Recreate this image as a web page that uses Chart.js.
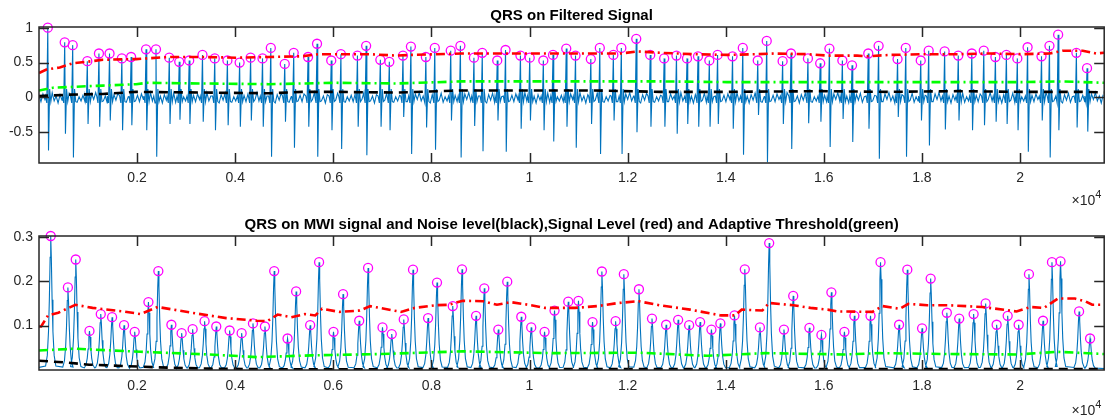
<!DOCTYPE html>
<html>
<head>
<meta charset="utf-8">
<script src="https://cdn.jsdelivr.net/npm/chart.js@4.4.1/dist/chart.umd.min.js"></script>
<style>
  html, body { margin: 0; padding: 0; background: #fff; }
  #wrap { position: relative; width: 1110px; height: 418px; overflow: hidden; }
  canvas { position: absolute; left: 0; }
</style>
</head>
<body>
<div id="wrap">
  <canvas id="filt-chart" width="1110" height="214" style="top:0"></canvas>
  <canvas id="mwi-chart" width="1110" height="209" style="top:209px"></canvas>
</div>
<script>
'use strict'
const FONT = '"Liberation Sans", Arial, sans-serif'
const AXIS_COLOR = '#262626'
const xMax = 21716
const xTickVals = [2000, 4000, 6000, 8000, 10000, 12000, 14000, 16000, 18000, 20000]
const yTicksFilt = [-0.5, 0, 0.5, 1]
const yTicksMwi = [0.1, 0.2, 0.3]

// R peaks found on the filtered signal (sample index, amplitude)
const qrsRawIdx = [179, 524, 687, 985, 1222, 1438, 1689, 1878, 2182, 2385,
  2656, 2859, 3062, 3333, 3583, 3841, 4090, 4314, 4557, 4726,
  5010, 5193, 5485, 5668, 5958, 6155, 6492, 6669, 6959, 7142,
  7420, 7582, 7887, 8069, 8394, 8591, 8867, 9037, 9342, 9511,
  9815, 10004, 10282, 10479, 10749, 10938, 11250, 11433, 11709, 11872,
  12176, 12461, 12745, 12996, 13211, 13435, 13666, 13834, 14139, 14348,
  14653, 14836, 15160, 15331, 15676, 15926, 16114, 16378, 16575, 16906,
  17117, 17503, 17671, 17976, 18138, 18463, 18741, 19017, 19261, 19498,
  19722, 19945, 20154, 20438, 20600, 20777, 21149, 21366]
const qrsRawAmp = [1.0, 0.79, 0.75, 0.52, 0.63, 0.63, 0.56, 0.58, 0.69, 0.69,
  0.57, 0.51, 0.53, 0.61, 0.56, 0.53, 0.50, 0.57, 0.56, 0.71,
  0.48, 0.64, 0.58, 0.77, 0.53, 0.62, 0.60, 0.74, 0.54, 0.51,
  0.60, 0.73, 0.58, 0.71, 0.67, 0.74, 0.57, 0.64, 0.53, 0.68,
  0.60, 0.57, 0.53, 0.61, 0.70, 0.60, 0.55, 0.71, 0.61, 0.71,
  0.84, 0.61, 0.56, 0.60, 0.56, 0.59, 0.53, 0.61, 0.59, 0.71,
  0.53, 0.81, 0.52, 0.63, 0.56, 0.49, 0.70, 0.53, 0.46, 0.63,
  0.74, 0.55, 0.71, 0.53, 0.67, 0.66, 0.60, 0.63, 0.67, 0.58,
  0.61, 0.56, 0.72, 0.59, 0.74, 0.90, 0.64, 0.42]
// deepest dip right after each R peak
const sWaveAmp = [-0.76, -0.52, -0.86, -0.38, -0.42, -0.33, -0.47, -0.40, -0.47, -0.85,
  -0.38, -0.32, -0.38, -0.35, -0.47, -0.40, -0.42, -0.33, -0.42, -0.85,
  -0.35, -0.72, -0.42, -0.85, -0.47, -0.74, -0.42, -0.83, -0.42, -0.47,
  -0.28, -0.81, -0.43, -0.75, -0.33, -0.86, -0.41, -0.77, -0.33, -0.78,
  -0.45, -0.33, -0.47, -0.63, -0.42, -0.72, -0.38, -0.81, -0.33, -0.81,
  -0.50, -0.42, -0.42, -0.52, -0.38, -0.42, -0.42, -0.38, -0.45, -0.82,
  -0.25, -0.93, -0.38, -0.74, -0.37, -0.35, -0.71, -0.31, -0.64, -0.45,
  -0.88, -0.28, -0.85, -0.33, -0.69, -0.46, -0.33, -0.47, -0.40, -0.35,
  -0.38, -0.47, -0.78, -0.33, -0.86, -0.47, -0.43, -0.49]
// baseline ripple of the filtered signal between beats
const baseWiggle = [0.03, -0.06, 0.05, -0.03, 0.07, -0.05, 0.02, -0.08, 0.04, -0.04, 0.06, -0.07, 0.01, -0.05]

// QRS peaks on the moving window integration signal
const qrsIdx = [239, 589, 749, 1029, 1259, 1490, 1734, 1951, 2231, 2433,
  2699, 2908, 3132, 3376, 3614, 3886, 4131, 4362, 4606, 4795,
  5067, 5242, 5528, 5710, 6004, 6199, 6528, 6709, 7003, 7191,
  7436, 7625, 7932, 8114, 8435, 8624, 8910, 9078, 9364, 9546,
  9832, 10035, 10307, 10510, 10790, 10998, 11285, 11475, 11755, 11923,
  12231, 12497, 12785, 13030, 13254, 13478, 13709, 13891, 14179, 14389,
  14697, 14886, 15187, 15376, 15706, 15951, 16154, 16420, 16623, 16952,
  17156, 17534, 17702, 18003, 18178, 18508, 18760, 19054, 19299, 19523,
  19748, 19972, 20182, 20469, 20651, 20826, 21204, 21428]
const qrsAmp = [0.302, 0.186, 0.249, 0.088, 0.126, 0.119, 0.101, 0.086, 0.153, 0.223,
  0.102, 0.083, 0.092, 0.110, 0.098, 0.089, 0.083, 0.105, 0.098, 0.223,
  0.071, 0.177, 0.101, 0.243, 0.086, 0.171, 0.111, 0.230, 0.096, 0.081,
  0.114, 0.226, 0.117, 0.197, 0.144, 0.227, 0.122, 0.184, 0.091, 0.199,
  0.120, 0.096, 0.086, 0.134, 0.154, 0.156, 0.108, 0.222, 0.110, 0.216,
  0.182, 0.116, 0.102, 0.113, 0.101, 0.108, 0.091, 0.105, 0.123, 0.227,
  0.096, 0.286, 0.091, 0.167, 0.095, 0.079, 0.175, 0.086, 0.122, 0.122,
  0.243, 0.102, 0.226, 0.094, 0.206, 0.129, 0.116, 0.126, 0.150, 0.102,
  0.122, 0.102, 0.216, 0.111, 0.243, 0.245, 0.132, 0.071]

// levels on the filtered signal
const sigFiltIdx = [0, 152, 423, 694, 964, 1302, 1979, 2656, 3332, 4009, 4685, 5362, 5700, 6716, 7298,
  7596, 8611, 9490, 10775, 11859, 12197, 12671, 13347, 14024, 14606, 14985, 15662, 16068, 16677, 16880,
  17354, 18031, 18707, 19384, 20061, 20602, 20873, 21279, 21549, 21716]
const sigFilt = [0.35, 0.40, 0.43, 0.49, 0.51, 0.54, 0.55, 0.58, 0.58, 0.57, 0.58, 0.59, 0.62, 0.62, 0.60,
  0.61, 0.63, 0.63, 0.63, 0.63, 0.66, 0.64, 0.62, 0.61, 0.62, 0.63, 0.62, 0.60, 0.60, 0.59,
  0.61, 0.62, 0.62, 0.63, 0.62, 0.63, 0.67, 0.67, 0.63, 0.64]
const thrFiltIdx = [0, 288, 626, 1302, 1979, 2216, 3332, 4685, 5362, 6029, 7298, 8611, 9964, 11317,
  12671, 14024, 15920, 17354, 18707, 20061, 20873, 21716]
const thrFilt = [0.10, 0.14, 0.15, 0.17, 0.19, 0.21, 0.20, 0.19, 0.20, 0.21, 0.20, 0.23, 0.23, 0.23,
  0.23, 0.22, 0.22, 0.22, 0.22, 0.22, 0.23, 0.21]
const noiseFiltIdx = [0, 626, 1302, 1979, 3332, 4685, 5362, 6029, 7298, 8611, 9964, 11317, 12671,
  14024, 15920, 17354, 18707, 20061, 21331, 21716]
const noiseFilt = [0.02, 0.04, 0.05, 0.08, 0.07, 0.06, 0.08, 0.08, 0.07, 0.10, 0.10, 0.10, 0.08,
  0.08, 0.09, 0.08, 0.09, 0.08, 0.08, 0.07]

// levels on the MWI signal
const sigMwiIdx = [0, 44, 183, 393, 742, 1092, 1721, 2070, 2419, 3118, 3817, 4445, 4655, 4865, 5144,
  5424, 5633, 5773, 6122, 6542, 6751, 7380, 7659, 8079, 8358, 8638, 9057, 9336, 9616, 10035,
  10315, 10929, 11384, 11804, 12224, 12644, 13275, 13905, 14186, 14326, 14746, 14886, 15376, 15727, 16077,
  16287, 16988, 17198, 17548, 17723, 18108, 18529, 19229, 19930, 20210, 20490, 20771, 21121, 21331, 21471, 21716]
const sigMwi = [0.098, 0.098, 0.123, 0.129, 0.147, 0.140, 0.132, 0.126, 0.142, 0.129, 0.117, 0.111, 0.110, 0.125, 0.119,
  0.126, 0.123, 0.138, 0.131, 0.134, 0.144, 0.131, 0.140, 0.146, 0.147, 0.156, 0.155, 0.147, 0.153, 0.146,
  0.140, 0.140, 0.144, 0.151, 0.155, 0.146, 0.136, 0.123, 0.123, 0.136, 0.134, 0.151, 0.146, 0.140, 0.136,
  0.132, 0.131, 0.144, 0.138, 0.149, 0.146, 0.146, 0.142, 0.132, 0.142, 0.140, 0.161, 0.161, 0.155, 0.147, 0.147]
const thrMwiIdx = [0, 742, 2070, 3467, 4445, 5563, 6961, 8638, 10454, 12224, 13625, 14816, 16427,
  17128, 18529, 19930, 20771, 21716]
const thrMwi = [0.044, 0.048, 0.041, 0.035, 0.029, 0.033, 0.036, 0.042, 0.038, 0.039, 0.032, 0.038, 0.035,
  0.038, 0.036, 0.035, 0.041, 0.036]
const noiseMwiIdx = [0, 533, 1022, 1721, 2419, 3467, 4865, 8000, 12000, 16000, 20000, 21716]
const noiseMwi = [0.021, 0.017, 0.012, 0.009, 0.006, 0.003, 0.0015, 0.002, 0.002, 0.002, 0.002, 0.002]

const zip = (xs, ys) => xs.map((x, i) => ({ x: x, y: ys[i] }))

function buildFiltered() {
  const pts = []
  let w = 0
  const addWiggle = (from, to) => {
    for (let x = from; x < to; x += 40) {
      pts.push({ x: x, y: baseWiggle[w++ % baseWiggle.length] })
    }
  }
  addWiggle(0, qrsRawIdx[0] - 45)
  qrsRawIdx.forEach((r, i) => {
    pts.push({ x: r - 45, y: 0.02 })
    pts.push({ x: r - 20, y: -0.08 })
    pts.push({ x: r, y: qrsRawAmp[i] })
    pts.push({ x: r + 15, y: sWaveAmp[i] })
    pts.push({ x: r + 38, y: 0.12 })
    pts.push({ x: r + 62, y: -0.06 })
    const next = i + 1 < qrsRawIdx.length ? qrsRawIdx[i + 1] - 45 : xMax + 1
    addWiggle(r + 90, next)
  })
  return pts
}

function buildMwi() {
  const offs = [-105, -70, -45, -28, -12, 0, 12, 28, 45, 70, 105]
  const frac = [0.02, 0.1, 0.28, 0.52, 0.84, 1, 0.84, 0.52, 0.28, 0.1, 0.02]
  const base = 0.003
  const pts = [{ x: 0, y: 0.006 }]
  qrsIdx.forEach((p, i) => {
    offs.forEach((o, k) => pts.push({ x: p + o, y: base + (qrsAmp[i] - base) * frac[k] }))
  })
  pts.push({ x: xMax, y: base })
  return pts
}

// matlab style box with inward ticks and the x10^4 exponent
const boxPlugin = {
  id: 'box',
  afterDraw(chart, args, opts) {
    const { ctx, chartArea: a, scales } = chart
    const tl = 10
    ctx.save()
    ctx.strokeStyle = AXIS_COLOR
    ctx.lineWidth = 1.5
    ctx.strokeRect(a.left, a.top, a.right - a.left, a.bottom - a.top)
    ctx.beginPath()
    scales.x.ticks.forEach((t) => {
      const px = Math.round(scales.x.getPixelForValue(t.value)) + 0.5
      ctx.moveTo(px, a.bottom)
      ctx.lineTo(px, a.bottom - tl)
      ctx.moveTo(px, a.top)
      ctx.lineTo(px, a.top + tl)
    })
    scales.y.ticks.forEach((t) => {
      const py = Math.round(scales.y.getPixelForValue(t.value)) + 0.5
      ctx.moveTo(a.left, py)
      ctx.lineTo(a.left + tl, py)
      ctx.moveTo(a.right, py)
      ctx.lineTo(a.right - tl, py)
    })
    ctx.stroke()
    ctx.fillStyle = AXIS_COLOR
    ctx.textBaseline = 'middle'
    ctx.textAlign = 'right'
    ctx.font = '14px ' + FONT
    ctx.fillText('\u00d710', a.right - 9, a.bottom + opts.expY)
    ctx.textAlign = 'left'
    ctx.font = '11px ' + FONT
    ctx.fillText('4', a.right - 9, a.bottom + opts.expY - 6)
    ctx.restore()
  },
}

function lineSet(data, color, dash, order) {
  return {
    data: data,
    borderColor: color,
    borderWidth: 2.6,
    borderDash: dash,
    pointRadius: 0,
    tension: 0,
    order: order,
  }
}

function makeChart(id, cfg) {
  return new Chart(document.getElementById(id).getContext('2d'), {
    type: 'line',
    data: {
      datasets: [
        { data: cfg.signal, borderColor: '#0072BD', borderWidth: 1.1, pointRadius: 0, tension: 0, order: 5 },
        {
          data: cfg.peaks,
          showLine: false,
          pointStyle: 'circle',
          pointRadius: 4.5,
          pointBorderWidth: 1.3,
          pointBorderColor: '#FF00FF',
          pointBackgroundColor: 'rgba(0,0,0,0)',
          clip: false,
          order: 4,
        },
        lineSet(cfg.noise, '#000000', [9, 6], 3),
        lineSet(cfg.thr, '#00FF00', [9, 4, 2, 4], 2),
        lineSet(cfg.sig, '#FF0000', [9, 4, 2, 4], 1),
      ],
    },
    options: {
      responsive: false,
      animation: false,
      devicePixelRatio: 1,
      events: [],
      layout: { padding: { left: 0, right: 2, top: 0, bottom: 0 } },
      plugins: {
        legend: { display: false },
        tooltip: { enabled: false },
        title: {
          display: true,
          text: cfg.title,
          fullSize: false,
          color: '#000',
          font: { family: FONT, size: 15, weight: 'bold' },
          padding: { top: 7, bottom: 2 },
        },
        box: { expY: cfg.expY },
      },
      scales: {
        x: {
          type: 'linear',
          min: 0,
          max: xMax,
          grid: { display: false, drawTicks: false },
          border: { display: false },
          ticks: {
            color: AXIS_COLOR,
            font: { family: FONT, size: 14 },
            padding: cfg.xPad,
            maxRotation: 0,
            autoSkip: false,
            callback: (v) => String(v / 10000),
          },
          afterBuildTicks: (s) => {
            s.ticks = xTickVals.map((v) => ({ value: v }))
          },
          afterFit: (s) => {
            s.height = cfg.xHeight
          },
        },
        y: {
          type: 'linear',
          min: cfg.yMin,
          max: cfg.yMax,
          grid: { display: false, drawTicks: false },
          border: { display: false },
          ticks: {
            color: AXIS_COLOR,
            font: { family: FONT, size: 14 },
            padding: 6,
            autoSkip: false,
            callback: (v) => String(v),
          },
          afterBuildTicks: (s) => {
            s.ticks = cfg.yTicks.map((v) => ({ value: v }))
          },
          afterFit: (s) => {
            s.width = 39
          },
        },
      },
    },
    plugins: [boxPlugin],
  })
}

makeChart('filt-chart', {
  title: 'QRS on Filtered Signal',
  signal: buildFiltered(),
  peaks: zip(qrsRawIdx, qrsRawAmp),
  noise: zip(noiseFiltIdx, noiseFilt),
  thr: zip(thrFiltIdx, thrFilt),
  sig: zip(sigFiltIdx, sigFilt),
  yMin: -0.94,
  yMax: 1.01,
  yTicks: yTicksFilt,
  xPad: 7,
  xHeight: 51,
  expY: 38,
})

makeChart('mwi-chart', {
  title: 'QRS on MWI signal and Noise level(black),Signal Level (red) and Adaptive Threshold(green)',
  signal: buildMwi(),
  peaks: zip(qrsIdx, qrsAmp),
  noise: zip(noiseMwiIdx, noiseMwi),
  thr: zip(thrMwiIdx, thrMwi),
  sig: zip(sigMwiIdx, sigMwi),
  yMin: 0,
  yMax: 0.302,
  yTicks: yTicksMwi,
  xPad: 8,
  xHeight: 48,
  expY: 41,
})
</script>
</body>
</html>
